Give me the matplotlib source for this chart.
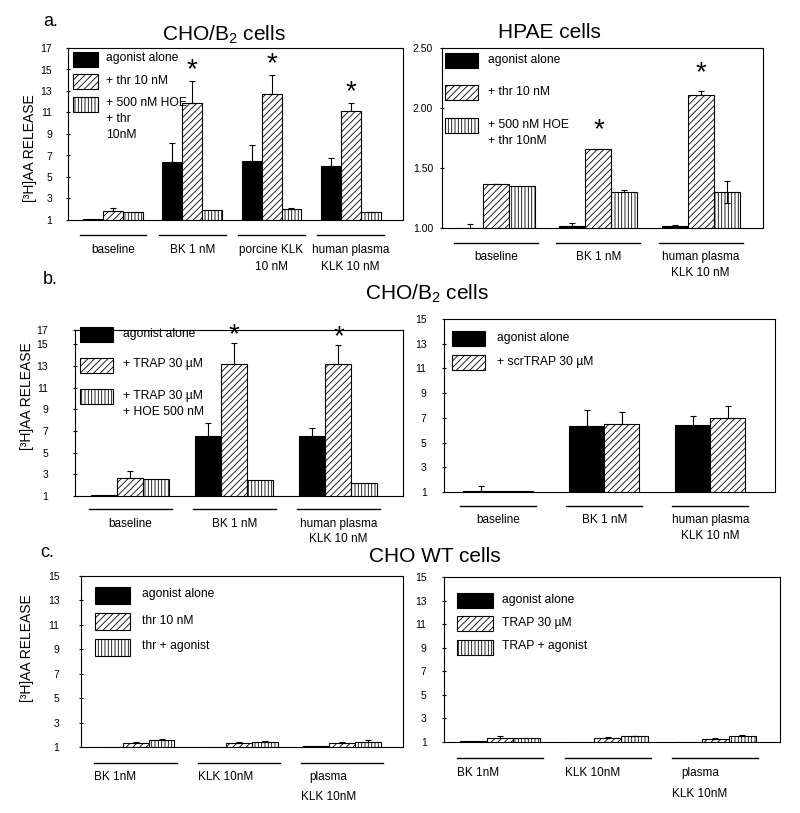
import matplotlib
matplotlib.use("Agg")
import matplotlib.pyplot as plt
import matplotlib.transforms as mtransforms
from matplotlib.patches import Rectangle
import numpy as np

plt.rcParams["font.family"] = ["Liberation Sans", "DejaVu Sans"]
plt.rcParams["mathtext.fontset"] = "custom"
plt.rcParams["mathtext.rm"] = "Liberation Sans"
plt.rcParams["hatch.linewidth"] = 0.6

# ---- data -------------------------------------------------------------
# a. CHO/B2 cells
a1_groups = ["baseline", "BK 1 nM", "porcine KLK\n10 nM", "human plasma\nKLK 10 nM"]
a1_agonist = [1.05, 6.4, 6.5, 6.0]
a1_agonist_err = [0, 1.75, 1.45, 0.8]
a1_thr = [1.8, 11.9, 12.7, 11.1]
a1_thr_err = [0.35, 2.0, 1.8, 0.8]
a1_hoe = [1.7, 1.9, 2.05, 1.7]
a1_hoe_err = [0, 0, 0.05, 0.05]
a1_sig = [False, True, True, True]
a1_keys = ["agonist alone", "+ thr 10 nM", "+ 500 nM HOE\n+ thr\n10nM"]

# a. HPAE cells
a2_groups = ["baseline", "BK 1 nM", "human plasma\nKLK 10 nM"]
a2_agonist = [1.002, 1.02, 1.017]
a2_agonist_err = [0.03, 0.02, 0.005]
a2_thr = [1.364, 1.656, 2.108]
a2_thr_err = [0.005, 0.005, 0.03]
a2_hoe = [1.353, 1.30, 1.30]
a2_hoe_err = [0, 0.02, 0.09]
a2_sig = [False, True, True]
a2_keys = ["agonist alone", "+ thr 10 nM", "+ 500 nM HOE\n+ thr 10nM"]

# b. CHO/B2 cells, TRAP
b1_groups = ["baseline", "BK 1 nM", "human plasma\nKLK 10 nM"]
b1_agonist = [1.05, 6.5, 6.57]
b1_agonist_err = [0, 1.25, 0.7]
b1_trap = [2.69, 13.15, 13.2]
b1_trap_err = [0.65, 1.95, 1.7]
b1_hoe = [2.57, 2.45, 2.23]
b1_hoe_err = [0, 0, 0]
b1_sig = [False, True, True]
b1_keys = ["agonist alone", "+ TRAP 30 µM", "+ TRAP 30 µM\n+ HOE 500 nM"]

# b. scrambled TRAP
b2_groups = ["baseline", "BK 1 nM", "human plasma\nKLK 10 nM"]
b2_agonist = [1.05, 6.38, 6.43]
b2_agonist_err = [0.4, 1.28, 0.73]
b2_scr = [1.08, 6.52, 6.95]
b2_scr_err = [0, 0.93, 1.0]
b2_keys = ["agonist alone", "+ scrTRAP 30 µM"]

# c. CHO WT cells
c1_groups = ["BK 1nM", "KLK 10nM", "plasma\nKLK 10nM"]
c1_agonist = [1.03, 1.0, 1.05]
c1_thr = [1.33, 1.33, 1.30]
c1_thr_err = [0.12, 0.10, 0.12]
c1_combo = [1.55, 1.45, 1.42]
c1_combo_err = [0.13, 0.05, 0.15]
c1_keys = ["agonist alone", "thr 10 nM", "thr + agonist"]

c2_groups = ["BK 1nM", "KLK 10nM", "plasma\nKLK 10nM"]
c2_agonist = [1.05, 1.0, 1.03]
c2_trap = [1.35, 1.30, 1.25]
c2_trap_err = [0.12, 0.12, 0.10]
c2_combo = [1.30, 1.50, 1.55]
c2_combo_err = [0.03, 0.05, 0.05]
c2_keys = ["agonist alone", "TRAP 30 µM", "TRAP + agonist"]

# ---- styles -----------------------------------------------------------
STYLES = {
    "solid": dict(facecolor="black", hatch=None),
    "diag": dict(facecolor="white", hatch="/////"),
    "vert": dict(facecolor="white", hatch="|||||"),
}
W, H = 800, 813
YLABEL = "[³H]AA RELEASE"

fig = plt.figure(figsize=(8, 8.13), dpi=100)


def make_axes(l, t, r, b):
    ax = fig.add_axes([l / W, 1 - b / H, (r - l) / W, (b - t) / H])
    for s in ax.spines.values():
        s.set_linewidth(0.8)
    ax.set_xticks([])
    return ax


def draw_bars(ax, series, errs, styles, width, lower=None):
    n = len(series)
    x = np.arange(len(series[0]))
    pos = []
    for k, (vals, err, st) in enumerate(zip(series, errs, styles)):
        xs = x + (k - (n - 1) / 2) * width
        ax.bar(xs, vals, width, edgecolor="black", linewidth=0.8, **STYLES[st])
        err = np.asarray(err, dtype=float)
        m = err > 0
        if m.any():
            lo = np.zeros_like(err) if lower is None or lower[k] is None else np.asarray(lower[k])
            ax.errorbar(xs[m], np.asarray(vals)[m], yerr=[lo[m], err[m]], fmt="none",
                        ecolor="black", elinewidth=0.8, capsize=2.5, capthick=0.8)
        pos.append(xs)
    return pos


def draw_stars(ax, xs, vals, errs, flags, off):
    for x, v, e, f in zip(xs, vals, errs, flags):
        if f:
            ax.annotate("*", (x, v + e), xytext=(0, off), textcoords="offset pixels",
                        ha="center", va="center", fontsize=20)


def group_labels(ax, labels, half, line_dy, text_dy, ls, left=False):
    tr = mtransforms.offset_copy(ax.get_xaxis_transform(), fig=fig, y=-line_dy, units="dots")
    for i, lab in enumerate(labels):
        ax.plot([i - half, i + half], [0, 0], transform=tr, color="black", lw=1, clip_on=False)
        ax.annotate(lab, xy=(i - half if left else i, 0), xycoords=ax.get_xaxis_transform(),
                    xytext=(0, -text_dy), textcoords="offset pixels",
                    ha="left" if left else "center", va="top", fontsize=8.5,
                    linespacing=ls, multialignment="center")


def draw_key(ax, labels, styles, x0, y0, w, h, step, tx, ls):
    b = ax.get_position()
    left, top = b.x0 * W, b.y1 * H
    for k, (lab, st) in enumerate(zip(labels, styles)):
        ty = top - y0 - k * step
        fig.add_artist(Rectangle(((left + x0) / W, (ty - h) / H), w / W, h / H,
                                 transform=fig.transFigure, edgecolor="black",
                                 linewidth=0.8, **STYLES[st]))
        fig.text((left + tx) / W, (ty - h / 2 + 7) / H, lab, ha="left", va="top",
                 fontsize=8.7, linespacing=ls)


def y_axis(ax, lim, ticks, labels, pad):
    ax.set_ylim(*lim)
    ax.set_yticks(ticks)
    ax.set_yticklabels(labels)
    ax.tick_params(axis="y", direction="inout", length=3, width=0.8, labelsize=7.5, pad=pad)


# ---- a. CHO/B2 --------------------------------------------------------
ax = make_axes(68, 48, 403, 220)
pos = draw_bars(ax, [a1_agonist, a1_thr, a1_hoe], [a1_agonist_err, a1_thr_err, a1_hoe_err],
                ["solid", "diag", "vert"], 0.252)
draw_stars(ax, pos[1], a1_thr, a1_thr_err, a1_sig, 11)
ax.set_xlim(-0.57, 3.66)
y_axis(ax, (1, 17), range(1, 18, 2), [str(v) for v in range(1, 18, 2)], 10)
group_labels(ax, a1_groups, 0.42, 15, 24, 1.55)
ax.set_ylabel(YLABEL, fontsize=10)
ax.yaxis.set_label_coords(-0.092, 0.42)
draw_key(ax, a1_keys, ["solid", "diag", "vert"], 5, 4, 25, 15, 22.5, 38, 1.4)

# ---- a. HPAE ----------------------------------------------------------
ax = make_axes(442, 48, 763, 228)
lower = [None, None, [0, 0, 0.09]]
pos = draw_bars(ax, [a2_agonist, a2_thr, a2_hoe], [a2_agonist_err, a2_thr_err, a2_hoe_err],
                ["solid", "diag", "vert"], 0.254, lower=lower)
draw_stars(ax, pos[1], a2_thr, a2_thr_err, a2_sig, 18)
ax.set_xlim(-0.53, 2.61)
y_axis(ax, (1.0, 2.5), [1.0, 1.5, 2.0, 2.5], ["1.00", "1.50", "2.00", "2.50"], 5)
group_labels(ax, a2_groups, 0.41, 15, 23, 1.45)
draw_key(ax, a2_keys, ["solid", "diag", "vert"], 3, 5, 33, 15, 32.5, 46, 1.55)

# ---- b. TRAP ----------------------------------------------------------
ax = make_axes(75, 330, 403, 496)
pos = draw_bars(ax, [b1_agonist, b1_trap, b1_hoe], [b1_agonist_err, b1_trap_err, b1_hoe_err],
                ["solid", "diag", "vert"], 0.25)
draw_stars(ax, pos[1], b1_trap, b1_trap_err, b1_sig, 8)
ax.set_xlim(-0.53, 2.62)
ticks = list(range(1, 16, 2)) + [16.3]
y_axis(ax, (1, 16.3), ticks, [str(v) for v in range(1, 18, 2)], 18)
group_labels(ax, b1_groups, 0.4, 13, 22, 1.35)
ax.set_ylabel(YLABEL, fontsize=10)
ax.yaxis.set_label_coords(-0.126, 0.6)
draw_key(ax, b1_keys, ["solid", "diag", "vert"], 5, -3, 33, 15, 31, 48, 1.47)

# ---- b. scrTRAP -------------------------------------------------------
ax = make_axes(444, 319, 775, 492)
draw_bars(ax, [b2_agonist, b2_scr], [b2_agonist_err, b2_scr_err], ["solid", "diag"], 0.33)
ax.set_xlim(-0.51, 2.61)
y_axis(ax, (1, 15), range(1, 16, 2), [str(v) for v in range(1, 16, 2)], 11)
group_labels(ax, b2_groups, 0.36, 14, 22, 1.45)
draw_key(ax, b2_keys, ["solid", "diag"], 8, 12, 33, 15, 24, 53, 1.4)

# ---- c. CHO WT, thrombin ---------------------------------------------
ax = make_axes(81, 576, 403, 747)
draw_bars(ax, [c1_agonist, c1_thr, c1_combo], [[0, 0, 0], c1_thr_err, c1_combo_err],
          ["solid", "diag", "vert"], 0.25)
ax.set_xlim(-0.53, 2.59)
y_axis(ax, (1, 15), range(1, 16, 2), [str(v) for v in range(1, 16, 2)], 14)
group_labels(ax, c1_groups, 0.4, 16, 24, 1.85, left=True)
ax.set_ylabel(YLABEL, fontsize=10)
ax.yaxis.set_label_coords(-0.145, 0.58)
draw_key(ax, c1_keys, ["solid", "diag", "vert"], 14, 11, 35, 17, 26, 61, 1.4)

# ---- c. CHO WT, TRAP --------------------------------------------------
ax = make_axes(444, 577, 780, 742)
draw_bars(ax, [c2_agonist, c2_trap, c2_combo], [[0, 0, 0], c2_trap_err, c2_combo_err],
          ["solid", "diag", "vert"], 0.25)
ax.set_xlim(-0.52, 2.6)
y_axis(ax, (1, 15), range(1, 16, 2), [str(v) for v in range(1, 16, 2)], 11)
group_labels(ax, c2_groups, 0.4, 16, 25, 2.0, left=True)
draw_key(ax, c2_keys, ["solid", "diag", "vert"], 13, 16, 36, 15, 23.5, 58, 1.4)

# ---- titles -----------------------------------------------------------
def ftext(x, y, s, size, ha="center"):
    fig.text(x / W, 1 - y / H, s, ha=ha, va="center", fontsize=size)


ftext(43, 22, "a.", 13, ha="left")
ftext(224, 35, "CHO/B$_2$ cells", 15)
ftext(549, 33, "HPAE cells", 15)
ftext(43, 279, "b.", 13, ha="left")
ftext(427, 294, "CHO/B$_2$ cells", 15)
ftext(40, 552, "c.", 13, ha="left")
ftext(435, 556, "CHO WT cells", 15)

fig.savefig("out.png", dpi=100)
